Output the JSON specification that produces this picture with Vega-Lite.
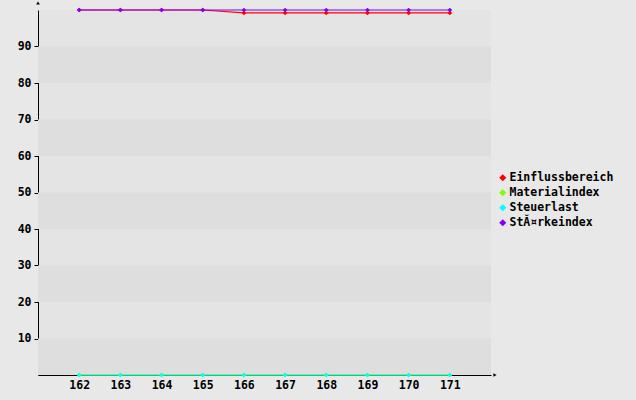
{
  "$schema": "https://vega.github.io/schema/vega-lite/v6.json",
  "autosize": "none",
  "width": 453,
  "height": 365,
  "padding": {"left": 38, "top": 10, "right": 145, "bottom": 25},
  "background": "#e8e8e8",
  "config": {
    "view": {"stroke": null, "fill": "#e4e4e4"},
    "font": "DejaVu Sans Mono",
    "axis": {"labelFont": "DejaVu Sans Mono", "labelFontWeight": "bold", "labelFontSize": 11.5, "labelColor": "#000", "domainColor": "#000", "tickColor": "#000", "grid": false, "title": null},
    "legend": {"title": null, "orient": "none", "legendX": 459, "legendY": 162, "symbolType": "diamond", "symbolSize": 25,
               "labelFont": "DejaVu Sans Mono", "labelFontWeight": "bold", "labelFontSize": 11.5, "labelColor": "#000",
               "rowPadding": 2, "labelOffset": 1}
  },
  "datasets": {
    "bands": [
      {"lo": 0, "hi": 10}, {"lo": 20, "hi": 30}, {"lo": 40, "hi": 50}, {"lo": 60, "hi": 70}, {"lo": 80, "hi": 90}
    ],
    "series": [
      {"x": 162, "s": "Einflussbereich", "v": 100},
      {"x": 163, "s": "Einflussbereich", "v": 100},
      {"x": 164, "s": "Einflussbereich", "v": 100},
      {"x": 165, "s": "Einflussbereich", "v": 100},
      {"x": 166, "s": "Einflussbereich", "v": 99.2},
      {"x": 167, "s": "Einflussbereich", "v": 99.2},
      {"x": 168, "s": "Einflussbereich", "v": 99.2},
      {"x": 169, "s": "Einflussbereich", "v": 99.2},
      {"x": 170, "s": "Einflussbereich", "v": 99.2},
      {"x": 171, "s": "Einflussbereich", "v": 99.2},
      {"x": 162, "s": "Materialindex", "v": 0},
      {"x": 163, "s": "Materialindex", "v": 0},
      {"x": 164, "s": "Materialindex", "v": 0},
      {"x": 165, "s": "Materialindex", "v": 0},
      {"x": 166, "s": "Materialindex", "v": 0},
      {"x": 167, "s": "Materialindex", "v": 0},
      {"x": 168, "s": "Materialindex", "v": 0},
      {"x": 169, "s": "Materialindex", "v": 0},
      {"x": 170, "s": "Materialindex", "v": 0},
      {"x": 171, "s": "Materialindex", "v": 0},
      {"x": 162, "s": "Steuerlast", "v": 0},
      {"x": 163, "s": "Steuerlast", "v": 0},
      {"x": 164, "s": "Steuerlast", "v": 0},
      {"x": 165, "s": "Steuerlast", "v": 0},
      {"x": 166, "s": "Steuerlast", "v": 0},
      {"x": 167, "s": "Steuerlast", "v": 0},
      {"x": 168, "s": "Steuerlast", "v": 0},
      {"x": 169, "s": "Steuerlast", "v": 0},
      {"x": 170, "s": "Steuerlast", "v": 0},
      {"x": 171, "s": "Steuerlast", "v": 0},
      {"x": 162, "s": "StĂ¤rkeindex", "v": 100},
      {"x": 163, "s": "StĂ¤rkeindex", "v": 100},
      {"x": 164, "s": "StĂ¤rkeindex", "v": 100},
      {"x": 165, "s": "StĂ¤rkeindex", "v": 100},
      {"x": 166, "s": "StĂ¤rkeindex", "v": 100},
      {"x": 167, "s": "StĂ¤rkeindex", "v": 100},
      {"x": 168, "s": "StĂ¤rkeindex", "v": 100},
      {"x": 169, "s": "StĂ¤rkeindex", "v": 100},
      {"x": 170, "s": "StĂ¤rkeindex", "v": 100},
      {"x": 171, "s": "StĂ¤rkeindex", "v": 100}
    ]
  },
  "layer": [
    {
      "data": {"name": "bands"},
      "mark": {"type": "rect", "fill": "#dedede"},
      "encoding": {
        "x": {"datum": 161, "type": "quantitative", "scale": {"domain": [161, 172], "nice": false, "zero": false},
              "axis": {"values": [162,163,164,165,166,167,168,169,170,171], "format": "d", "ticks": false, "labelPadding": 4}},
        "x2": {"datum": 172},
        "y": {"field": "lo", "type": "quantitative", "scale": {"domain": [0, 100], "nice": false},
              "axis": {"values": [10,20,30,40,50,60,70,80,90], "tickSize": 4, "labelPadding": 3}},
        "y2": {"field": "hi"}
      }
    },
    {
      "data": {"name": "series"},
      "mark": {"type": "line", "strokeWidth": 1.2},
      "encoding": {
        "x": {"field": "x", "type": "quantitative"},
        "y": {"field": "v", "type": "quantitative"},
        "color": {"field": "s", "type": "nominal",
                  "scale": {"domain": ["Einflussbereich", "Materialindex", "Steuerlast", "StĂ¤rkeindex"], "range": ["#ff0000", "#80ff00", "#00ffff", "#8000ff"]}},
        "order": {"field": "x"}
      }
    },
    {
      "data": {"name": "series"},
      "mark": {"type": "point", "shape": "diamond", "filled": true, "size": 22, "opacity": 1},
      "encoding": {
        "x": {"field": "x", "type": "quantitative"},
        "y": {"field": "v", "type": "quantitative"},
        "color": {"field": "s", "type": "nominal"}
      }
    },
    {
      "data": {"values": [{}]},
      "mark": {"type": "rule", "color": "#000", "strokeWidth": 1},
      "encoding": {
        "x": {"datum": 161, "type": "quantitative"},
        "y": {"datum": 100, "type": "quantitative"},
        "y2": {"datum": 100},
        "y2Offset": {"value": -7}
      }
    },
    {
      "data": {"values": [{}]},
      "mark": {"type": "rule", "color": "#000", "strokeWidth": 1},
      "encoding": {
        "x": {"datum": 172, "type": "quantitative"},
        "x2": {"datum": 172},
        "x2Offset": {"value": 4},
        "y": {"datum": 0, "type": "quantitative"}
      }
    },
    {
      "data": {"values": [{}]},
      "mark": {"type": "point", "shape": "triangle-up", "filled": true, "color": "#000", "size": 14, "opacity": 1, "yOffset": -7},
      "encoding": {
        "x": {"datum": 161, "type": "quantitative"},
        "y": {"datum": 100, "type": "quantitative"}
      }
    },
    {
      "data": {"values": [{}]},
      "mark": {"type": "point", "shape": "triangle-right", "filled": true, "color": "#000", "size": 14, "opacity": 1, "xOffset": 4},
      "encoding": {
        "x": {"datum": 172, "type": "quantitative"},
        "y": {"datum": 0, "type": "quantitative"}
      }
    }
  ]
}
